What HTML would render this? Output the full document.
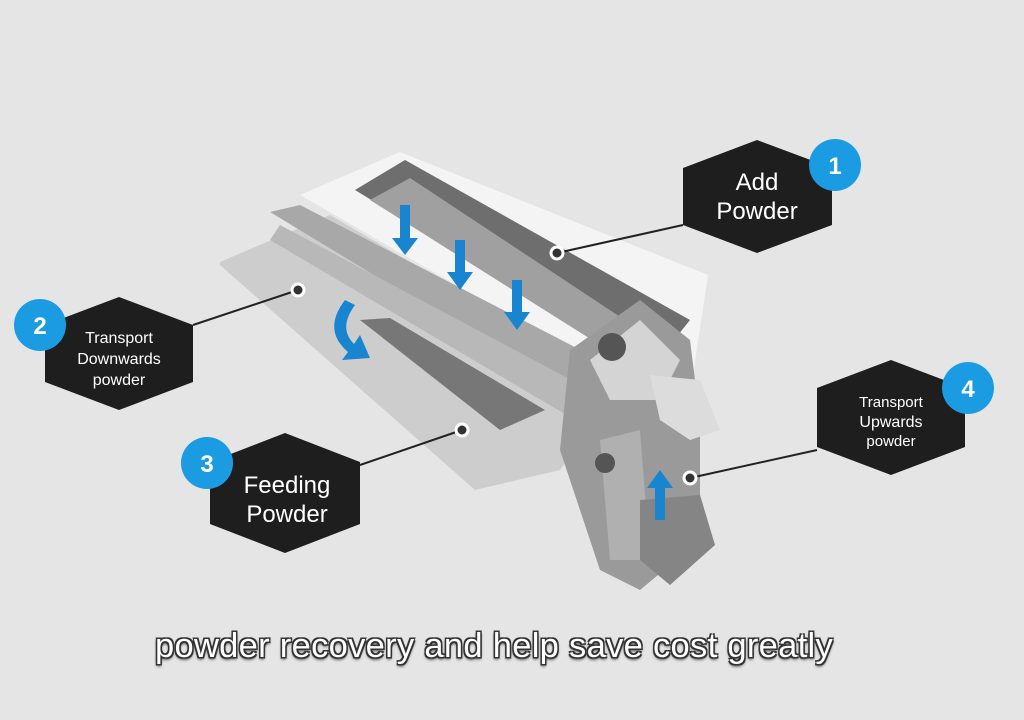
<!DOCTYPE html>
<html><head><style>
body{margin:0;width:1024px;height:720px;background:#e5e5e5;overflow:hidden;font-family:"Liberation Sans",sans-serif}
svg{position:absolute;left:0;top:0}
.cap{position:absolute;left:-18px;width:1024px;top:627px;text-align:center;font-size:34.5px;color:#fff;
text-shadow:-1.5px -1.5px 0 #333,1.5px -1.5px 0 #333,-1.5px 1.5px 0 #333,1.5px 1.5px 0 #333,0 2px 3px #000;letter-spacing:0.3px}
</style></head><body>
<svg width="1024" height="720" viewBox="0 0 1024 720">
<rect width="1024" height="720" fill="#e5e5e5"/>
<polygon points="300,195 400,152 708,275 690,395 560,345" fill="#f4f4f4"/>
<polygon points="355,190 405,160 690,320 650,370" fill="#6e6e6e"/>
<polygon points="370,200 410,178 640,330 600,345" fill="#a0a0a0"/>
<polygon points="220,262 330,215 620,385 560,470 475,490 220,265" fill="#cdcdcd"/>
<polygon points="270,212 300,205 600,360 580,400" fill="#a8a8a8"/>
<polygon points="280,225 590,390 575,420 270,240" fill="#b8b8b8"/>
<polygon points="360,320 390,318 545,410 500,430" fill="#777"/>
<polygon points="570,350 640,300 690,340 700,420 700,540 640,590 600,570 560,450" fill="#9a9a9a"/>
<polygon points="590,360 640,320 680,360 660,400 610,400" fill="#d4d4d4"/>
<polygon points="600,440 640,430 650,560 610,560" fill="#b0b0b0"/>
<polygon points="640,500 700,495 715,545 670,585 640,560" fill="#858585"/>
<polygon points="650,375 700,380 720,430 690,440 660,420" fill="#dcdcdc"/>
<circle cx="612" cy="347" r="14" fill="#555"/>
<circle cx="605" cy="463" r="10" fill="#555"/>
<g fill="#1985d0">
<polygon points="400,205 410,205 410,238 418,238 405,255 392,238 400,238"/>
<polygon points="455,240 465,240 465,272 473,272 460,290 447,272 455,272"/>
<polygon points="512,280 522,280 522,312 530,312 517,330 504,312 512,312"/>
<polygon points="655,520 665,520 665,488 673,488 660,470 647,488 655,488"/>
<path d="M345,300 Q322,330 348,352 L342,360 L370,358 L360,335 L354,344 Q338,328 355,305 Z"/>
</g>
<g stroke="#222" stroke-width="2">
<line x1="683" y1="225" x2="557" y2="253"/>
<line x1="193" y1="325" x2="298" y2="290"/>
<line x1="360" y1="465" x2="462" y2="430"/>
<line x1="817" y1="450" x2="690" y2="478"/>
</g>
<g fill="#333" stroke="#fff" stroke-width="3">
<circle cx="557" cy="253" r="6"/><circle cx="298" cy="290" r="6"/>
<circle cx="462" cy="430" r="6"/><circle cx="690" cy="478" r="6"/>
</g>
<g fill="#1e1e1e">
<polygon points="757,140 832,168 832,225 757,253 683,225 683,168"/>
<polygon points="119,297 193,325 193,382 119,410 45,382 45,325"/>
<polygon points="285,433 360,462 360,524 285,553 210,524 210,462"/>
<polygon points="891,360 965,388 965,447 891,475 817,447 817,388"/>
</g>
<g fill="#1b9ce2">
<circle cx="835" cy="165" r="26"/><circle cx="40" cy="325" r="26"/>
<circle cx="207" cy="463" r="26"/><circle cx="968" cy="388" r="26"/>
</g>
<g fill="#fff" font-family="Liberation Sans,sans-serif" text-anchor="middle">
<g font-weight="bold" font-size="24">
<text x="835" y="174">1</text><text x="40" y="334">2</text>
<text x="207" y="472">3</text><text x="968" y="397">4</text>
</g>
<text x="757" y="190" font-size="24">Add</text>
<text x="757" y="219" font-size="24">Powder</text>
<text x="119" y="343" font-size="16">Transport</text>
<text x="119" y="364" font-size="16">Downwards</text>
<text x="119" y="385" font-size="16">powder</text>
<text x="287" y="493" font-size="24">Feeding</text>
<text x="287" y="522" font-size="24">Powder</text>
<text x="891" y="407" font-size="15">Transport</text>
<text x="891" y="427" font-size="16">Upwards</text>
<text x="891" y="446" font-size="15">powder</text>
</g>
</svg>
<div class="cap">powder recovery and help save cost greatly</div>
</body></html>
